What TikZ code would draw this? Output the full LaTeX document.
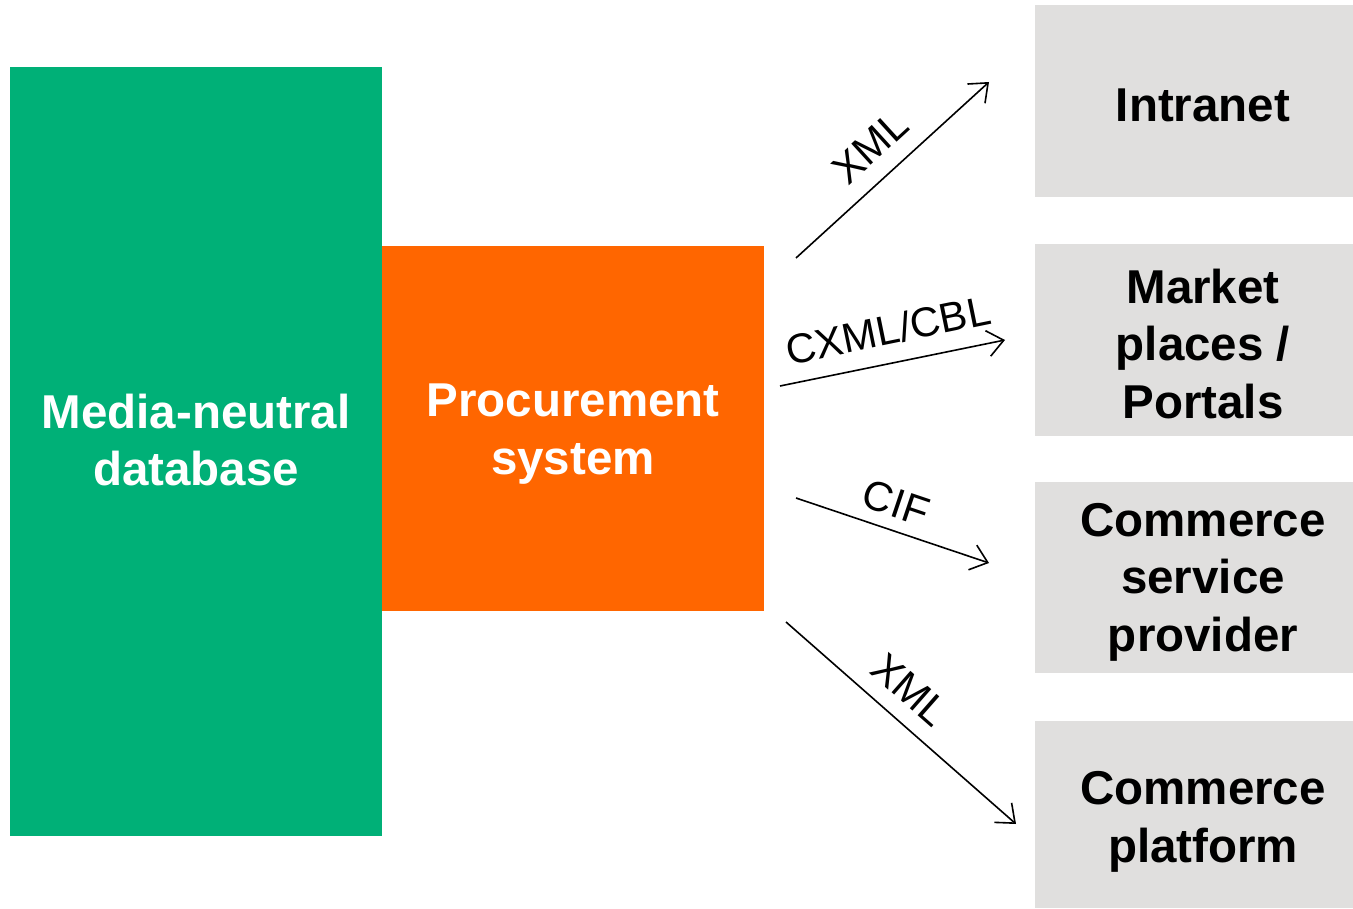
\documentclass[tikz,border=0pt]{standalone}
\usepackage{fontspec}
\setmainfont{Liberation Sans}
\usetikzlibrary{arrows.meta}
\definecolor{dbgreen}{HTML}{00B077}
\definecolor{procorange}{HTML}{FF6600}
\definecolor{targetgray}{HTML}{E0DFDE}
\begin{document}
\begin{tikzpicture}[x=1pt,y=-1pt,
  bigtext/.style={font=\fontsize{47.5}{57.5}\selectfont\bfseries, align=center},
  block/.style={inner sep=0pt, outer sep=0pt},
  flow/.style={line width=1.6pt, -{Straight Barb[length=16pt,width=26pt,line width=1.6pt]}},
  flowlabel/.style={font=\fontsize{41.5}{44}\selectfont, inner sep=0pt}]
\useasboundingbox[fill=white] (0,0) rectangle (1353,909);

% source blocks
\fill[dbgreen] (10,67) rectangle (382,836);
\node[block] (db) at (196,451.5) {};
\node[bigtext, text=white] at (196,440) {Media-neutral\\database};

\fill[procorange] (382,246) rectangle (764,611);
\node[block] (proc) at (573,428.5) {};
\node[bigtext, text=white] at (573,434) {Procurement\\system};

% target blocks
\fill[targetgray] (1035,5) rectangle (1353,197);
\node[bigtext] (intranet) at (1203,105) {Intranet};
\fill[targetgray] (1035,244) rectangle (1353,436);
\node[bigtext] (market) at (1203,344) {Market\\places /\\Portals};
\fill[targetgray] (1035,482) rectangle (1353,673);
\node[bigtext] (service) at (1203,582) {Commerce\\service\\provider};
\fill[targetgray] (1035,721) rectangle (1353,908);
\node[bigtext] (platform) at (1203,822) {Commerce\\platform};

% connector end points
\coordinate (a1s) at (796,258);  \coordinate (a1e) at (989,82);
\coordinate (a2s) at (780,386);  \coordinate (a2e) at (1005,340);
\coordinate (a3s) at (796,498);  \coordinate (a3e) at (989,563);
\coordinate (a4s) at (786,622);  \coordinate (a4e) at (1016,824);

\draw[flow] (a1s) -- (a1e);
\draw[flow] (a2s) -- (a2e);
\draw[flow] (a3s) -- (a3e);
\draw[flow] (a4s) -- (a4e);

\node[flowlabel, rotate=42.4] (l1) at (870,147) {XML};
\node[flowlabel, rotate=11.6] (l2) at (888,330) {CXML/CBL};
\node[flowlabel, rotate=-18.6] (l3) at (896,503) {CIF};
\node[flowlabel, rotate=-41.3] (l4) at (910,690) {XML};
\end{tikzpicture}
\end{document}
